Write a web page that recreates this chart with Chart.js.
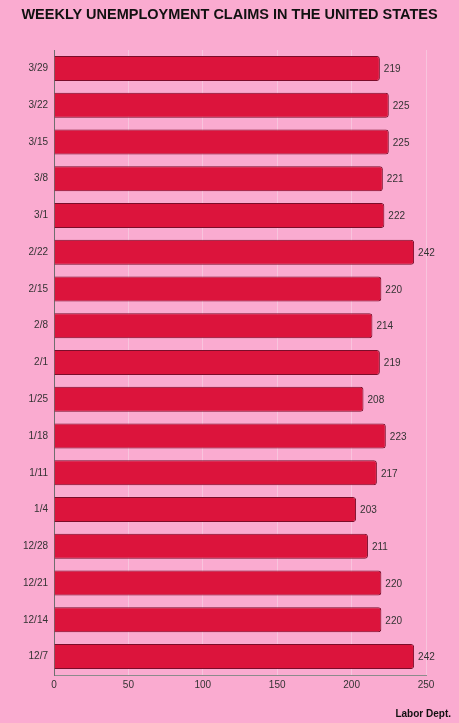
<!DOCTYPE html>
<html>
<head>
<meta charset="utf-8">
<script src="https://cdn.jsdelivr.net/npm/chart.js@4.4.1/dist/chart.umd.min.js"></script>
<style>
  html, body { margin: 0; padding: 0; background: #FAABD0; }
  #wrap { width: 459px; height: 723px; position: relative; }
</style>
</head>
<body>
<div id="wrap"><canvas id="c"></canvas></div>
<script>
const TITLE = 'WEEKLY UNEMPLOYMENT CLAIMS IN THE UNITED STATES';
const SOURCE = 'Labor Dept.';
const weeks = ['3/29','3/22','3/15','3/8','3/1','2/22','2/15','2/8','2/1','1/25','1/18','1/11','1/4','12/28','12/21','12/14','12/7'];
const claims = [219,225,225,221,222,242,220,214,219,208,223,217,203,211,220,220,242];
const xTicks = [0,50,100,150,200,250];

const FONT = "'Liberation Sans', Arial, Helvetica, sans-serif";

const textPlugin = {
  id: 'textPlugin',
  afterDraw(chart) {
    const ctx = chart.ctx;
    ctx.save();
    // title
    ctx.fillStyle = '#111';
    ctx.font = 'bold 14.5px ' + FONT;
    ctx.textAlign = 'center';
    ctx.textBaseline = 'middle';
    ctx.fillText(TITLE, 229.5, 14.5);
    // source
    ctx.font = 'bold 10px ' + FONT;
    ctx.textAlign = 'right';
    ctx.fillText(SOURCE, 451, 714);
    // value labels
    ctx.font = '10px ' + FONT;
    ctx.fillStyle = '#333';
    ctx.textAlign = 'left';
    ctx.textBaseline = 'middle';
    const meta = chart.getDatasetMeta(0);
    meta.data.forEach((bar, i) => {
      ctx.fillText(String(claims[i]), bar.x + 4, bar.y + 1);
    });
    ctx.restore();
  }
};

new Chart(document.getElementById('c'), {
  type: 'bar',
  data: {
    labels: weeks,
    datasets: [{
      data: claims,
      backgroundColor: '#DC143C',
      borderColor: '#7A0D2A',
      borderWidth: 1,
      borderRadius: 3,
      borderSkipped: 'start',
      categoryPercentage: 0.68,
      barPercentage: 1
    }]
  },
  options: {
    indexAxis: 'y',
    responsive: true,
    maintainAspectRatio: false,
    animation: false,
    layout: { padding: { top: 50, right: 33, left: 0, bottom: 0 } },
    plugins: {
      legend: { display: false },
      tooltip: { enabled: false },
      title: { display: false }
    },
    scales: {
      x: {
        min: 0,
        max: 250,
        afterBuildTicks(scale) { scale.ticks = xTicks.map(v => ({ value: v })); },
        afterFit(scale) { scale.height = 48; },
        grid: { color: '#F8C4DD', lineWidth: 1, drawTicks: false },
        border: { display: true, color: '#8C8C8C', width: 1 },
        ticks: { color: '#333', font: { family: FONT, size: 10 }, padding: 4 }
      },
      y: {
        afterFit(scale) { scale.width = 54; },
        grid: { display: false, drawTicks: false },
        border: { display: true, color: '#6E6E6E', width: 1 },
        ticks: { color: '#333', font: { family: FONT, size: 10 }, padding: 6 }
      }
    }
  },
  plugins: [textPlugin]
});
</script>
</body>
</html>
